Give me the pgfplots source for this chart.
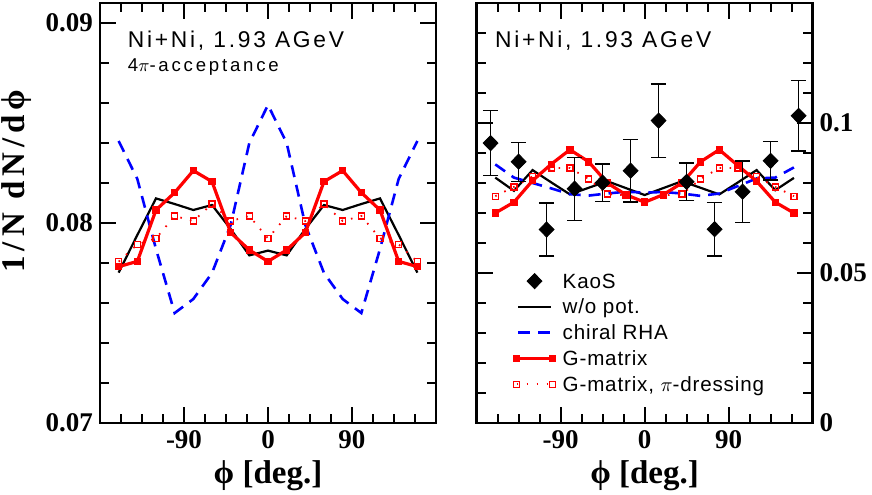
\documentclass[border=0pt]{standalone}
\usepackage{fontspec}
\setmainfont{Liberation Serif}
\setsansfont{Liberation Sans}
\newfontfamily\annotA[LetterSpace=12]{Liberation Sans}
\newfontfamily\annotB[LetterSpace=15]{Liberation Sans}
\newfontfamily\legfont[LetterSpace=4]{Liberation Sans}
\newfontfamily\ylabfont[LetterSpace=15]{Liberation Serif}
\usepackage{pgfplots}
\usepackage{pgfplotstable}
\pgfplotsset{compat=1.18}
\definecolor{kblue}{RGB}{0,0,255}
\definecolor{kred}{RGB}{255,0,0}

% left panel (4pi acceptance)
\pgfplotstableread{
x    wo       chiral   gmat     gpi
-160 0.07752  0.0841   0.07782  0.07807
-140 0.0794   0.0822   0.07808  0.07893
-120 0.08123  0.0787   0.08065  0.07923
-100 0.08095  0.0755   0.08152  0.08035
-80  0.08065  0.0762   0.08262  0.0801
-60  0.0809   0.0775   0.08207  0.08095
-40  0.0797   0.0799   0.07952  0.0801
-20  0.07838  0.0840   0.07865  0.08035
0    0.07862  0.0859   0.07808  0.07923
20   0.07838  0.0840   0.07865  0.08035
40   0.0797   0.0799   0.07952  0.0801
60   0.0809   0.0775   0.08207  0.08095
80   0.08065  0.0762   0.08262  0.0801
100  0.08095  0.0755   0.08152  0.08035
120  0.08123  0.0787   0.08065  0.07923
140  0.0794   0.0822   0.07808  0.07893
160  0.07752  0.0841   0.07782  0.07807
}\lefttab

% right panel (KaoS acceptance)
\pgfplotstableread{
x    wo       chiral   gmat     gpi
-160 0.0818   0.0862   0.0700   0.0756
-140 0.0774   0.0818   0.0736   0.0787
-120 0.0843   0.0800   0.0808   0.0822
-100 0.0802   0.0782   0.0863   0.0850
-80  0.0762   0.0763   0.0911   0.0850
-60  0.0784   0.0758   0.0871   0.0813
-40  0.0806   0.0765   0.0800   0.0763
-20  0.0783   0.0771   0.0761   0.0759
0    0.0760   0.0768   0.0736   0.0737
20   0.0783   0.0770   0.0761   0.0759
40   0.0806   0.0765   0.0800   0.0763
60   0.0784   0.0757   0.0871   0.0813
80   0.0762   0.0765   0.0911   0.0850
100  0.0802   0.0790   0.0858   0.0850
120  0.0843   0.0815   0.0806   0.0822
140  0.0776   0.0818   0.0736   0.0787
160  0.0817   0.0852   0.0700   0.0756
}\righttab

\pgfplotstableread{
x    y       e
-165 0.0933  0.0108
-135 0.0871  0.0065
-105 0.0645  0.0088
-75  0.0781  0.0105
-45  0.0801  0.0063
-15  0.0841  0.0104
15   0.1008  0.0122
45   0.0804  0.0063
75   0.0646  0.0089
105  0.0771  0.0103
135  0.0874  0.0064
165  0.1024  0.0117
}\kaos

\pgfplotsset{
  common/.style={
    scale only axis, width=168pt, height=210pt,
    xmin=-180, xmax=180,
    xtick={-90,0,90}, xticklabels={-90,0,90},
    minor xtick={-157.5,-135,-112.5,-67.5,-45,-22.5,22.5,45,67.5,112.5,135,157.5},
    tick align=inside,
    major tick length=8pt, minor tick length=4.7pt,
    tick style={line width=1pt, black},
    axis line style={line width=1.15pt},
    tick label style={font=\bfseries\fontsize{13.5}{13.5}\selectfont},
    xlabel={ϕ [deg.]},
    xlabel style={font=\bfseries\fontsize{16.5}{16.5}\selectfont, at={(axis description cs:0.5,0)}, anchor=base, yshift=-30pt},
    clip=false,
  },
  wo/.style={black, line width=1.1pt, no marks},
  chiral/.style={kblue, line width=1.3pt, dash pattern=on 6pt off 4pt, no marks},
  gmat/.style={kred, line width=1.6pt, mark=square*, mark size=1.6pt, mark options={solid, line width=0.4pt, fill=kred}},
  gpi/.style={kred, line width=0.9pt, dash pattern=on 0.8pt off 4.2pt, mark=square, mark size=1.5pt, mark options={solid, line width=0.65pt, fill=white}},
  legdiamond/.style={legend image code/.code={\draw[##1] plot coordinates {(9pt,0pt)};}},
  legline/.style={legend image code/.code={\draw[##1] (0.75pt,0pt) -- (17.25pt,0pt);}},
  legmarks/.style={legend image code/.code={\draw[##1] plot coordinates {(0pt,0pt) (18pt,0pt)};}},
}

\begin{document}
\begin{tikzpicture}
% ---------------- left panel ----------------
\begin{axis}[common,
  ymin=0.07, ymax=0.091,
  ytick={0.07,0.08,0.09}, yticklabels={0.07,0.08,0.09},
  minor ytick={0.072,0.074,0.076,0.078,0.082,0.084,0.086,0.088},
  xtick pos=both, ytick pos=both,
  ylabel={1/N dN/dϕ},
  ylabel style={font=\ylabfont\bfseries\fontsize{16.5}{16.5}\selectfont, at={(axis description cs:-0.247,0.576)}, anchor=center},
]
\addplot[wo] table[x=x,y=wo]{\lefttab};
\addplot[chiral] table[x=x,y=chiral]{\lefttab};
\addplot[gpi] table[x=x,y=gpi]{\lefttab};
\addplot[gmat] table[x=x,y=gmat]{\lefttab};
\node[anchor=base west, inner sep=0pt, font=\annotA\fontsize{11.4}{11.4}\selectfont] at (axis description cs:0.082,0.8945) {Ni+Ni, 1.93 AGeV};
\node[anchor=base west, inner sep=0pt, font=\annotB\fontsize{9.3}{9.3}\selectfont] at (axis description cs:0.082,0.8364) {4$\pi$-acceptance};
\end{axis}

% ---------------- right panel ----------------
\begin{axis}[common, at={(188.3pt,0pt)},
  ymin=0, ymax=0.14,
  ytick={0,0.05,0.1}, yticklabels={0,0.05,0.1},
  minor ytick={0.01,0.02,0.03,0.04,0.06,0.07,0.08,0.09,0.11,0.12,0.13},
  yticklabel pos=right,
  xtick pos=both, ytick pos=both,
  legend style={at={(0.0903,0.379)}, anchor=north west, draw=none, fill=none,
    font=\legfont\fontsize{10.3}{10.3}\selectfont, row sep=0pt, column sep=0pt,
    nodes={inner xsep=3.5pt, inner ysep=0pt, text height=9.9pt, text depth=3.0pt}},
  legend cell align=left,
]
\addlegendimage{black, mark=diamond*, mark size=3.8pt, mark options={xscale=1.3}, legdiamond}
\addlegendentry{KaoS}
\addlegendimage{wo, legline}
\addlegendentry{w/o pot.}
\addlegendimage{chiral, legline}
\addlegendentry{chiral RHA}
\addlegendimage{gmat, legmarks}
\addlegendentry{G-matrix}
\addlegendimage{gpi, legmarks}
\addlegendentry{G-matrix, $\pi$-dressing}

\addplot[wo, forget plot] table[x=x,y=wo]{\righttab};
\addplot[chiral, forget plot] table[x=x,y=chiral]{\righttab};
\addplot[gpi, forget plot] table[x=x,y=gpi]{\righttab};
\addplot[gmat, forget plot] table[x=x,y=gmat]{\righttab};
\addplot[black, only marks, mark=diamond*, mark size=3.8pt, mark options={xscale=1.3}, forget plot,
  error bars/.cd, y dir=both, y explicit,
  error bar style={line width=0.7pt, black},
  error mark options={rotate=90, line width=0.7pt, mark size=3.9pt, black}]
  table[x=x, y=y, y error=e]{\kaos};
\node[anchor=base west, inner sep=0pt, font=\annotA\fontsize{11.4}{11.4}\selectfont] at (axis description cs:0.054,0.8945) {Ni+Ni, 1.93 AGeV};
\end{axis}
\pgfresetboundingbox
\useasboundingbox (-50pt,-35.5pt) rectangle (386pt,211.5pt);
\end{tikzpicture}
\end{document}
